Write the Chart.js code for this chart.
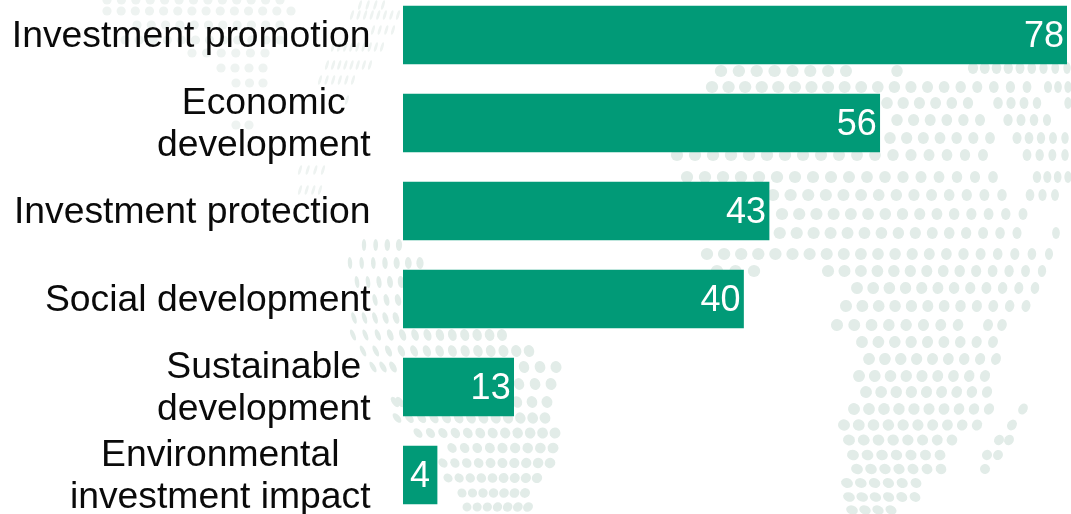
<!DOCTYPE html>
<html>
<head>
<meta charset="utf-8">
<title>Policy objectives</title>
<script src="https://cdn.jsdelivr.net/npm/chart.js@4"></script>
<style>
  html, body { margin: 0; padding: 0; width: 1071px; height: 514px; overflow: hidden; background: #fff; }
  #wrap { position: absolute; left: 0; top: -9px; width: 1071px; height: 528px; }
</style>
</head>
<body>
<div id="wrap"><canvas id="chart"></canvas></div>
<script>
// Bar chart values
const categories = [
  "Investment promotion",
  ["Economic", "development"],
  "Investment protection",
  "Social development",
  ["Sustainable", "development"],
  ["Environmental", "investment impact"]
];
const values = [78, 56, 43, 40, 13, 4];

// Dotted world map behind the bars, page coordinates: [y, firstX, lastX, dotCount]
const globeRows = [
  [68, 973, 1067, 9], [71, 721, 846, 8], [71, 897, 897, 1],
  [87, 712, 1027, 20], [87, 1048, 1068, 3],
  [103, 887, 968, 6], [103, 998, 1037, 4], [103, 1068, 1068, 1],
  [120, 897, 980, 6], [120, 1008, 1047, 4],
  [138, 890, 990, 7], [138, 1017, 1065, 5],
  [155, 677, 983, 18], [155, 1027, 1065, 4],
  [177, 687, 993, 18], [177, 1037, 1068, 4],
  [195, 773, 1002, 14], [195, 1030, 1055, 3],
  [214, 782, 1023, 15],
  [233, 695, 1017, 20], [233, 1056, 1056, 1],
  [254, 707, 1049, 21],
  [271, 717, 754, 3], [271, 828, 1042, 14],
  [288, 857, 1035, 12],
  [306, 846, 1026, 12],
  [325, 837, 958, 8], [325, 988, 1002, 2],
  [342, 862, 993, 9],
  [359, 869, 996, 9],
  [376, 859, 985, 9],
  [392, 866, 987, 9],
  [409, 854, 989, 10], [409, 1023, 1023, 1],
  [425, 844, 977, 10], [425, 1012, 1012, 1],
  [440, 849, 952, 8], [440, 999, 1009, 2],
  [455, 853, 940, 7], [455, 987, 998, 2],
  [469, 857, 941, 7], [469, 985, 985, 1],
  [483, 847, 916, 6],
  [497, 849, 915, 6],
  [510, 852, 891, 4],
  [245, 364, 399, 4],
  [263, 350, 420, 7],
  [282, 357, 401, 5],
  [300, 375, 398, 3],
  [318, 354, 396, 5],
  [335, 353, 502, 13],
  [351, 363, 529, 14],
  [367, 373, 393, 3], [367, 524, 556, 3],
  [384, 519, 551, 3],
  [402, 395, 400, 2], [402, 517, 547, 3],
  [418, 397, 545, 13],
  [433, 418, 555, 12],
  [448, 452, 553, 9],
  [463, 443, 550, 10],
  [478, 448, 537, 9],
  [493, 462, 525, 7],
  [507, 467, 528, 7]
];
// Fainter round dots of the western landmass: [y, firstX, lastX, dotCount]
const westRows = [
  [0, 107, 280, 13], [11, 107, 291, 14], [25, 137, 280, 11], [40, 125, 280, 12],
  [53, 192, 265, 6], [68, 221, 263, 4], [83, 236, 263, 3], [125, 236, 249, 2]
];
// Slim strokes along the edge of the map: [y, firstX, lastX, dotCount]
const edgeRows = [
  [5, 360, 383, 4], [15, 352, 398, 8], [30, 373, 393, 4], [47, 333, 382, 9],
  [65, 327, 370, 8], [80, 320, 353, 6], [100, 347, 347, 1], [170, 300, 323, 4], [190, 300, 320, 4]
];

const PAGE_OFFSET_Y = 9;      // the canvas sits 9px above the page top
const BAR_COLOR = "#019A77";
const FONT_FAMILY = '"Liberation Sans", Arial, sans-serif';
const LABEL_SIZE = 37.3;
const VALUE_SIZE = 36;
const LABEL_DROP = 2;         // category text sits slightly below the bar centre

function drawRows(ctx, rows, colour, shape) {
  ctx.fillStyle = colour;
  for (const [y, x0, x1, n] of rows) {
    for (let i = 0; i < n; i++) {
      const x = n > 1 ? x0 + (x1 - x0) * i / (n - 1) : x0;
      const s = shape(x, y);
      ctx.beginPath();
      ctx.ellipse(x, y, s.rx, s.ry, s.tilt, 0, Math.PI * 2);
      ctx.fill();
    }
  }
}

const mapBackdrop = {
  id: "mapBackdrop",
  beforeDraw(chart) {
    const ctx = chart.ctx;
    ctx.save();
    ctx.translate(0, PAGE_OFFSET_Y);
    drawRows(ctx, globeRows, "#E2ECE8", (x, y) => {
      const u = (x - 745) / 400;
      const rx = Math.max(2.2, 6.2 * Math.sqrt(Math.max(0, 1 - u * u)));
      const lower = Math.min(1, Math.max(0, (y - 250) / 250));
      return { rx, ry: 6 - Math.max(0, y - 400) / 100 * 1.4, tilt: 0.9 * lower * (x - 745) / 300 };
    });
    drawRows(ctx, westRows, "#EEF3F1", () => ({ rx: 4.6, ry: 4.6, tilt: 0 }));
    drawRows(ctx, edgeRows, "#EEF3F1", () => ({ rx: 1.4, ry: 5, tilt: 0.3 }));
    ctx.restore();
  }
};

// Two-line category labels are centred on each other, the block stays right-aligned
const centredTicks = {
  id: "centredTicks",
  beforeDraw(chart) {
    const scale = chart.scales.y;
    const ctx = chart.ctx;
    ctx.save();
    ctx.font = `${LABEL_SIZE}px ${FONT_FAMILY}`;
    for (const item of scale.getLabelItems()) {
      if (item.adjusted) continue;
      item.adjusted = true;
      item.options.translation[1] += LABEL_DROP;
      if (Array.isArray(item.label)) {
        const w = Math.max(...item.label.map(t => ctx.measureText(t).width));
        item.options.textAlign = "center";
        item.options.translation[0] -= w / 2;
      }
    }
    ctx.restore();
  }
};

// White value printed inside the end of each bar
const valueLabels = {
  id: "valueLabels",
  afterDatasetsDraw(chart) {
    const ctx = chart.ctx;
    const bars = chart.getDatasetMeta(0).data;
    ctx.save();
    ctx.fillStyle = "#fff";
    ctx.font = `${VALUE_SIZE}px ${FONT_FAMILY}`;
    ctx.textBaseline = "middle";
    bars.forEach((bar, i) => {
      const narrow = bar.x - bar.base < 40;
      ctx.textAlign = narrow ? "center" : "right";
      ctx.fillText(String(values[i]), narrow ? (bar.x + bar.base) / 2 : bar.x - 3, bar.y + 2);
    });
    ctx.restore();
  }
};

new Chart(document.getElementById("chart"), {
  type: "bar",
  data: {
    labels: categories,
    datasets: [{
      data: values,
      backgroundColor: BAR_COLOR,
      borderWidth: 0,
      barThickness: 58
    }]
  },
  options: {
    indexAxis: "y",
    responsive: true,
    maintainAspectRatio: false,
    animation: false,
    layout: { padding: { left: 0, right: 4, top: 0, bottom: 0 } },
    plugins: { legend: { display: false }, tooltip: { enabled: false } },
    scales: {
      x: { display: false, min: 0, max: 78 },
      y: {
        afterFit(scale) {
          scale.width = 403;
          scale.paddingTop = 0;
          scale.paddingBottom = 0;
        },
        grid: { display: false, drawTicks: false },
        border: { display: false },
        ticks: {
          color: "#0a0a0a",
          padding: 32.5,
          autoSkip: false,
          font: { family: FONT_FAMILY, size: LABEL_SIZE, lineHeight: 42 / LABEL_SIZE }
        }
      }
    }
  },
  plugins: [mapBackdrop, centredTicks, valueLabels]
});
</script>
</body>
</html>
